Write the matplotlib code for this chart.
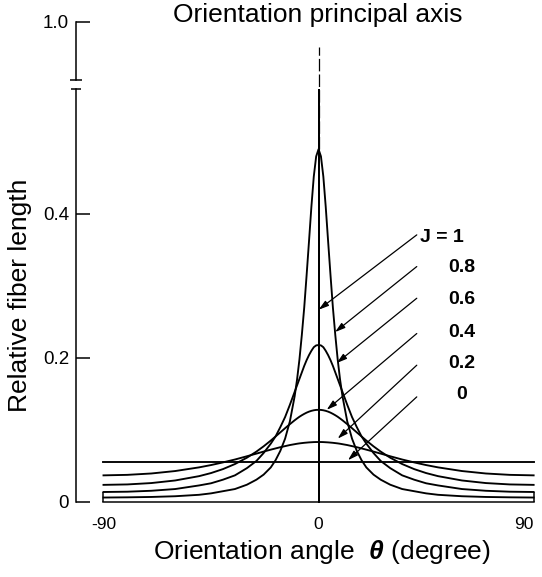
import numpy as np
import matplotlib
matplotlib.use("Agg")
import matplotlib.pyplot as plt
from matplotlib.transforms import Bbox, TransformedBbox


plt.rcParams["font.family"] = ["Liberation Sans", "DejaVu Sans"]
plt.rcParams["mathtext.fontset"] = "custom"
plt.rcParams["mathtext.it"] = "Liberation Sans:italic:bold"
plt.rcParams["mathtext.rm"] = "Liberation Sans"


# half profiles (theta >= 0), curves are symmetric about the principal axis
theta_half = [0, 1, 2, 3, 4, 5, 6, 7, 8, 9, 10, 12, 14, 16, 18, 20, 23, 26, 30, 35, 40, 45, 50, 60, 70, 80, 90]
rel_j08 = [0.490, 0.480, 0.452, 0.410, 0.362, 0.315, 0.270, 0.232, 0.198, 0.170, 0.147, 0.112, 0.088, 0.071,
           0.058, 0.048, 0.038, 0.031, 0.024, 0.018, 0.015, 0.012, 0.010, 0.008, 0.007, 0.0065, 0.0062]
rel_j06 = [0.218, 0.2175, 0.215, 0.210, 0.204, 0.197, 0.189, 0.180, 0.171, 0.162, 0.153, 0.135, 0.118, 0.104,
           0.091, 0.081, 0.068, 0.057, 0.047, 0.037, 0.031, 0.026, 0.023, 0.018, 0.0156, 0.0143, 0.0139]
rel_j04 = [0.128, 0.1279, 0.1274, 0.1266, 0.1255, 0.1241, 0.1224, 0.1205, 0.1184, 0.1160, 0.1135, 0.1081, 0.1025,
           0.0967, 0.0910, 0.0853, 0.0773, 0.0700, 0.0615, 0.0527, 0.0457, 0.0402, 0.0359, 0.0299, 0.0263, 0.0244, 0.0238]
rel_j02 = [0.0833, 0.0833, 0.0832, 0.0830, 0.0828, 0.0825, 0.0822, 0.0818, 0.0814, 0.0809, 0.0803, 0.0791, 0.0776,
           0.0761, 0.0744, 0.0727, 0.0700, 0.0672, 0.0635, 0.0590, 0.0550, 0.0513, 0.0481, 0.0430, 0.0396, 0.0377, 0.0370]
# J = 0 : uniform
theta_j0 = [-90, 90]
rel_j0 = [0.0556, 0.0556]
# J = 1 : everything on the principal axis
theta_j1 = [-90, 0, 0, 0, 90]
rel_j1 = [0, 0, 1.0, 0, 0]

j_labels = ["J = 1", "0.8", "0.6", "0.4", "0.2", "0"]
x_ticks = [-90, 0, 90]
x_ticklabels = ["-90", "0", "90"]
y_ticks = [0, 0.2, 0.4]
y_ticklabels = ["0", "0.2", "0.4"]

# label / arrow placement (theta, value)
label_pos = [(51.7, 0.368), (59.9, 0.325), (59.9, 0.281), (59.9, 0.236), (59.9, 0.193), (59.9, 0.149)]
arrow_from = [(41.1, 0.371), (41.1, 0.327), (41.1, 0.283), (41.1, 0.234), (41.1, 0.190), (41.1, 0.146)]
arrow_to = [(0, 0.267), (6.9, 0.236), (7.6, 0.193), (3.4, 0.128), (8.0, 0.088), (12.3, 0.058)]


def _mirror(th, v):
	th = np.asarray(th, dtype=float)
	v = np.asarray(v, dtype=float)
	return np.concatenate([-th[:0:-1], th]), np.concatenate([v[:0:-1], v])


XLIM = (-101.5, 93.5)
LW = 1.35

fig = plt.figure(figsize=(5.42, 5.77), dpi=100)
fig.patch.set_facecolor("white")
ax = fig.add_axes([76/542, 75/577, 466/542, 413/577])
ax_top = fig.add_axes([76/542, 497/577, 466/542, 58/577])

for a in (ax, ax_top):
	a.set_xlim(*XLIM)
	a.patch.set_alpha(0)
	for s in ("top", "right", "bottom"):
		a.spines[s].set_visible(False)
	a.spines["left"].set_linewidth(1.1)
	a.tick_params(axis="y", direction="in", length=10, width=1.1, pad=5, labelsize=13.5)

ax.set_ylim(0, 0.5736)
ax_top.set_ylim(0.92, 1.0)
ax_top.set_xticks([])
ax_top.set_yticks([1.0])
ax_top.set_yticklabels(["1.0"])

ax.set_yticks(y_ticks)
ax.set_yticklabels(y_ticklabels)
ax.set_xticks(x_ticks)
ax.set_xticklabels(x_ticklabels)
ax.tick_params(axis="x", length=0, pad=11, labelsize=12.5)
ax.get_xticklabels()[-1].set_horizontalalignment("right")
ax.get_xticklabels()[-1].set_x(92.5)

# axis break marks
ax.plot([0], [1], marker="_", ms=7, mew=1.1, color="black", transform=ax.transAxes, clip_on=False)
ax_top.plot([0], [0], marker="_", ms=8, mew=1.1, color="black", transform=ax_top.transAxes, clip_on=False)

# curves
for rel in (rel_j08, rel_j06, rel_j04, rel_j02):
	th, v = _mirror(theta_half, rel)
	ax.plot(th, v, "-", color="black", lw=LW, clip_on=False)
ax.plot(theta_j0, rel_j0, "-", color="black", lw=LW, clip_on=False)
ln, = ax.plot(theta_j1, rel_j1, "-", color="black", lw=LW * 0.8)
ln.set_clip_box(TransformedBbox(Bbox([[0, -0.05], [1, 1]]), ax.transAxes))
ax.vlines([-90, 90], 0, rel_j06[-1], color="black", lw=LW * 0.8)

# orientation principal axis
ax.plot([0, 0], [rel_j08[0], 0.632], color="black", lw=0.9, linestyle=(0, (10, 2.5)), clip_on=False)
fig.text(318/542, 1 - 15/577, "Orientation principal axis", ha="center", va="center", fontsize=19)

# J labels with arrows
for lab, lp, a0, a1 in zip(j_labels, label_pos, arrow_from, arrow_to):
	ax.text(lp[0], lp[1], lab, ha="center", va="center", fontsize=14, fontweight="bold")
	ax.annotate("", xy=a1, xytext=a0,
		arrowprops=dict(arrowstyle="-|>,head_length=0.6,head_width=0.18", color="black", lw=0.9,
			shrinkA=0, shrinkB=0, mutation_scale=10))

ax.set_ylabel("Relative fiber length", fontsize=19)
ax.yaxis.set_label_coords(-0.094, 0.5)
ax.set_xlabel("Orientation angle  $\\theta$ (degree)", fontsize=19)
ax.xaxis.set_label_coords(0.528, -0.088)

fig.savefig("out.png", dpi=100)
